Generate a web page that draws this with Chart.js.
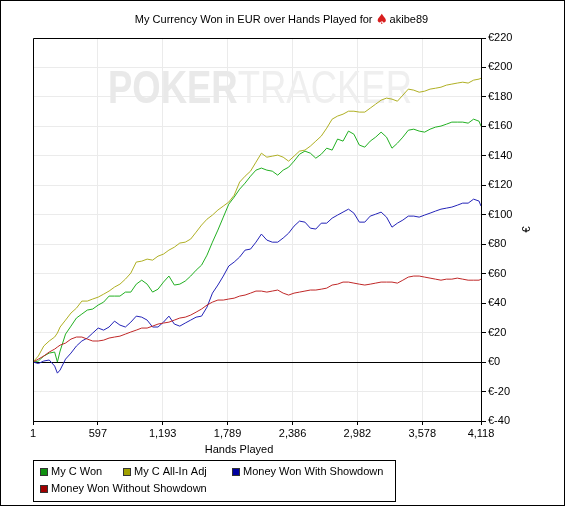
<!DOCTYPE html>
<html>
<head>
<meta charset="utf-8">
<script src="https://cdn.jsdelivr.net/npm/chart.js@4"></script>
<style>
html,body{margin:0;padding:0;background:#fff;}
#wrap{position:relative;width:565px;height:506px;}
canvas{display:block;}
</style>
</head>
<body>
<div id="wrap"><canvas id="c" width="565" height="506"></canvas></div>
<script>
const chartTitle = "My Currency Won in EUR over Hands Played for";
const playerName = "akibe89";
const xTitle = "Hands Played";
const yTitle = "€";
const xTickValues = [1, 597, 1193, 1789, 2386, 2982, 3578, 4118];
const yMin = -40, yMax = 220, yStep = 20;

const hands = [1,50,100,150,200,225,250,300,350,400,450,500,550,600,650,700,750,800,850,900,950,
  1000,1050,1100,1150,1200,1250,1300,1350,1400,1450,1500,1550,1600,1650,1700,1750,1800,1850,1900,1950,
  2000,2050,2100,2150,2200,2250,2300,2350,2400,2450,2500,2550,2600,2650,2700,2750,2800,2850,2900,2950,
  3000,3050,3100,3150,3200,3250,3300,3350,3400,3450,3500,3550,3600,3650,3700,3750,3800,3850,3900,3950,
  4000,4050,4100,4118];

const myCWon = [0,0.7,4.1,6.1,6.8,0,7.5,19.0,24.4,29.9,32.6,
  35.3,36.0,38.7,40.7,44.8,44.8,44.8,47.5,47.5,52.9,
  55.6,52.9,47.5,49.5,54.3,58.4,52.3,52.9,55.0,58.4,
  62.4,65.8,72.6,81.4,89.6,98.4,107.2,112.0,117.4,121.5,
  126.2,130.3,131.7,130.3,129.6,126.9,130.3,132.3,136.4,141.1,
  143.2,141.8,138.4,141.1,145.2,143.9,151.4,150.0,156.8,154.7,
  147.3,145.9,150.0,152.7,156.1,152.7,145.2,148.6,152.7,157.4,
  158.1,156.8,156.1,158.1,159.5,160.2,161.5,162.9,162.9,162.9,
  162.2,164.9,163.5,160.2];

const myCAllInAdj = [0,4.1,10.9,14.3,17.0,19.7,23.8,28.5,33.3,36.6,41.4,
  41.4,42.8,44.1,46.1,48.2,50.9,52.9,56.3,60.4,67.9,
  68.5,69.9,69.2,71.9,73.3,76.0,78.0,80.8,81.4,83.5,
  88.2,93.0,97.0,99.8,103.2,105.9,108.6,113.3,122.2,126.2,
  129.6,135.7,141.8,139.1,139.8,140.5,139.1,136.4,139.8,143.2,
  143.9,146.6,150.0,153.4,158.8,164.9,167.0,168.3,170.3,170.3,
  169.7,169.7,172.4,175.1,177.8,179.2,178.5,177.1,181.2,185.3,
  184.6,183.2,183.9,185.3,185.9,186.6,188.0,188.7,189.4,190.0,
  189.4,191.4,192.1,192.7];

const wonWithShowdown = [0,-1.0,0.7,1.4,-2.7,-7.5,-5.4,2.0,6.1,10.9,14.3,
  16.3,19.7,23.1,21.7,23.8,27.8,25.1,23.8,27.1,31.2,
  30.5,28.5,23.8,23.8,27.1,31.2,25.8,24.4,26.5,28.5,
  30.5,31.2,37.3,46.8,52.3,58.4,65.2,67.9,71.3,76.0,
  76.7,81.4,86.9,82.8,81.4,81.4,84.2,87.5,92.3,95.7,
  95.0,90.9,90.3,94.3,94.3,97.7,99.8,101.8,103.8,101.1,
  95.0,95.0,99.1,100.4,101.8,98.4,91.6,94.3,96.4,99.1,
  99.1,98.4,99.8,101.1,102.5,103.8,104.5,105.2,106.5,107.9,
  107.9,110.6,109.3,105.9];

const wonWithoutShowdown = [0,2.0,4.1,6.8,8.8,10.2,11.5,12.9,15.6,17.0,17.0,
  15.6,14.3,14.3,14.9,16.3,17.0,17.6,19.0,20.4,21.7,
  23.1,23.1,24.4,25.8,26.5,27.1,28.5,29.9,30.5,31.9,
  33.9,36.0,38.7,40.7,42.1,42.1,42.8,43.4,44.8,45.5,
  46.8,48.2,48.2,47.5,48.2,48.9,46.8,45.5,46.8,47.5,
  48.2,48.9,48.9,49.5,50.2,52.3,52.9,54.3,54.3,53.6,
  52.9,52.3,52.9,53.6,54.3,54.3,54.3,53.6,55.6,57.7,
  58.4,58.4,57.7,57.0,56.3,55.6,56.3,56.3,57.0,56.3,
  55.6,55.6,55.6,56.3];

const seriesNames = ["My C Won", "My C All-In Adj", "Money Won With Showdown", "Money Won Without Showdown"];
const seriesValues = [myCWon, myCAllInAdj, wonWithShowdown, wonWithoutShowdown];
const lineColors = ["#22b022", "#b0b024", "#2424b8", "#c02828"];
const legendColors = ["#109010", "#a0a000", "#0000a0", "#a00000"];

const FONT = "'Liberation Sans', Arial, sans-serif";
Chart.defaults.font.family = FONT;
Chart.defaults.font.size = 11;
Chart.defaults.color = "#000";

const datasets = seriesValues.map((vals, i) => ({
  label: seriesNames[i],
  data: hands.map((h, j) => ({x: h, y: vals[j]})),
  borderColor: lineColors[i],
  backgroundColor: legendColors[i],
  borderWidth: 1,
  pointRadius: 0,
  tension: 0,
  fill: false
}));
const ordered = [datasets[3], datasets[2], datasets[0], datasets[1]];
ordered.forEach((d, i) => d.order = i);

const deco = {
  id: 'deco',
  beforeDraw(chart) {
    const c = chart.ctx;
    c.save();
    c.fillStyle = '#fff';
    c.fillRect(0, 0, chart.width, chart.height);
    c.restore();
  },
  beforeDatasetsDraw(chart) {
    const c = chart.ctx;
    const a = chart.chartArea;
    c.save();
    c.beginPath();
    c.rect(a.left, a.top, a.right - a.left, a.bottom - a.top);
    c.clip();
    const x0 = 108, x1 = 412, base = 103;
    c.font = "bold 46px " + FONT;
    const w1 = c.measureText("POKER").width;
    c.font = "46px " + FONT;
    const w2 = c.measureText("TRACKER").width;
    const sc = (x1 - x0) / (w1 + w2);
    c.translate(x0, base);
    c.scale(sc, 1);
    c.textBaseline = 'alphabetic';
    c.font = "bold 46px " + FONT;
    c.fillStyle = '#e9e9e9';
    c.fillText("POKER", 0, 0);
    c.font = "46px " + FONT;
    c.fillStyle = '#efefef';
    c.fillText("TRACKER", w1, 0);
    c.restore();
  },
  afterDraw(chart) {
    const c = chart.ctx;
    const a = chart.chartArea;
    c.save();
    c.strokeStyle = '#000';
    c.lineWidth = 1;
    c.beginPath();
    c.moveTo(Math.round(a.left) + 0.5, Math.round(a.bottom));
    c.lineTo(Math.round(a.left) + 0.5, Math.round(a.top) + 0.5);
    c.lineTo(Math.round(a.right), Math.round(a.top) + 0.5);
    c.stroke();
    c.strokeRect(0.5, 0.5, chart.width - 1, chart.height - 1);

    c.font = "11px " + FONT;
    c.fillStyle = '#000';
    c.textBaseline = 'middle';
    const t1 = chartTitle + " ";
    const w1 = c.measureText(t1).width;
    const iconW = 13;
    const w2 = c.measureText(" " + playerName).width;
    let tx = chart.width / 2 - (w1 + iconW + w2) / 2;
    const ty = 20;
    c.textAlign = 'left';
    c.fillText(t1, tx, ty);
    c.font = "14px 'DejaVu Sans', sans-serif";
    c.fillStyle = '#d81e1e';
    c.fillText("♠", tx + w1, ty);
    c.font = "11px " + FONT;
    c.fillStyle = '#000';
    c.fillText(" " + playerName, tx + w1 + iconW - 2, ty);

    c.textAlign = 'center';
    c.fillText(xTitle, 239, 450);
    c.save();
    c.translate(527, (a.top + a.bottom) / 2);
    c.rotate(-Math.PI / 2);
    c.fillText(yTitle, 0, 0);
    c.restore();

    c.strokeRect(33.5, 460.5, 362, 41);
    const pos = [[40, 472], [123, 472], [232, 472], [40, 489]];
    chart.data.datasets.forEach((d, i) => {
      const [lx, ly] = pos[i];
      c.fillStyle = d.backgroundColor;
      c.fillRect(lx, ly - 4, 8, 8);
      c.strokeStyle = '#333';
      c.strokeRect(lx + 0.5, ly - 3.5, 7, 7);
      c.fillStyle = '#000';
      c.textAlign = 'left';
      c.fillText(d.label, lx + 11, ly);
    });
    c.restore();
  }
};

new Chart(document.getElementById('c'), {
  type: 'line',
  data: { datasets: datasets },
  options: {
    responsive: false,
    animation: false,
    events: [],
    layout: { padding: { left: 33, top: 38, right: 0, bottom: 0 } },
    plugins: { legend: { display: false }, title: { display: false }, tooltip: { enabled: false } },
    scales: {
      x: {
        type: 'linear',
        min: 1,
        max: 4118,
        afterBuildTicks(s) { s.ticks = xTickValues.map(v => ({ value: v })); },
        afterFit(s) { s.height = 85; },
        ticks: {
          autoSkip: false,
          maxRotation: 0,
          padding: 2,
          color: '#000',
          callback: v => Number(v).toLocaleString('en-US')
        },
        grid: { color: '#ebebeb', tickColor: '#000', tickLength: 4, drawTicks: true },
        border: { color: '#000' }
      },
      y: {
        position: 'right',
        min: yMin,
        max: yMax,
        afterFit(s) { s.width = 84; },
        ticks: {
          stepSize: yStep,
          padding: 2,
          color: '#000',
          callback: v => '€' + v
        },
        grid: {
          color: ctx => (ctx.tick && ctx.tick.value === 0) ? '#000' : '#ebebeb',
          tickColor: '#000',
          tickLength: 5
        },
        border: { color: '#000' }
      }
    }
  },
  plugins: [deco]
});
</script>
</body>
</html>
